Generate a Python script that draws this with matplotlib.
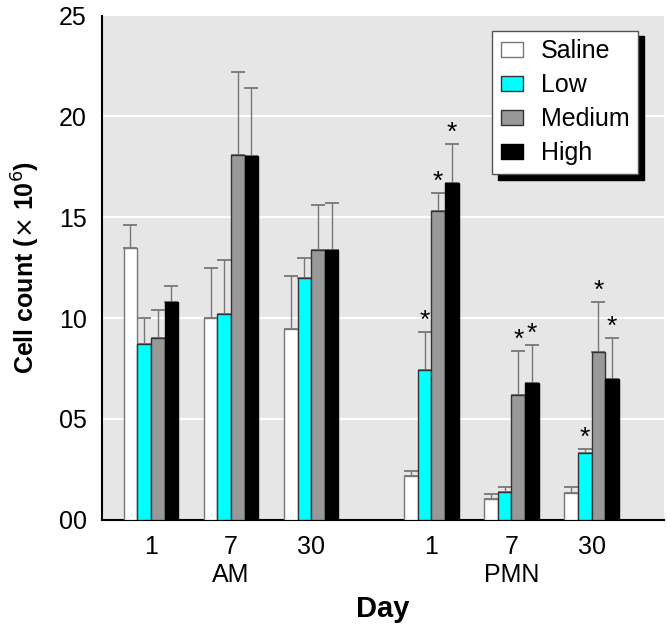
import matplotlib
matplotlib.use('Agg')
import matplotlib.pyplot as plt
import numpy as np

plt.rcParams['font.family'] = ['Liberation Sans', 'DejaVu Sans']

## data
days = ['1', '7', '30', '1', '7', '30']
cellTypes = ['AM', 'PMN']
groups = ['Saline', 'Low', 'Medium', 'High']

saline = [13.5, 10.0, 9.45, 2.15, 1.05, 1.35]
low = [8.7, 10.2, 12.0, 7.45, 1.4, 3.3]
medium = [9.0, 18.1, 13.4, 15.3, 6.2, 8.3]
high = [10.8, 18.05, 13.4, 16.7, 6.8, 7.0]

salineErr = [1.1, 2.5, 2.65, 0.25, 0.25, 0.3]
lowErr = [1.3, 2.7, 1.0, 1.85, 0.25, 0.2]
mediumErr = [1.4, 4.1, 2.2, 0.9, 2.15, 2.5]
highErr = [0.8, 3.35, 2.3, 1.95, 1.85, 2.0]

## significance stars: (group index, series index)
stars = [(3, 1), (3, 2), (3, 3), (4, 2), (4, 3), (5, 1), (5, 2), (5, 3)]

xpos = np.array([0, 1, 2, 3.5, 4.5, 5.5])
barW = 0.17
faces = ['white', '#00ffff', '#999999', 'black']
edges = ['#777777', '#333333', '#333333', 'black']

fig = plt.figure(figsize=(6.67, 6.24), dpi=100)
ax = fig.add_axes([0.153, 0.167, 0.842, 0.808])
ax.set_facecolor('#e6e6e6')

vals = [saline, low, medium, high]
errs = [salineErr, lowErr, mediumErr, highErr]
for i in range(4):
    xs = xpos + (i - 1.5) * barW
    ax.bar(xs, vals[i], width=barW, color=faces[i], edgecolor=edges[i],
           linewidth=1.0, label=groups[i], zorder=3)
    ax.errorbar(xs, vals[i], yerr=[np.zeros(6), errs[i]], fmt='none',
                ecolor='#777777', elinewidth=1.0, capsize=5, capthick=1.3,
                zorder=2)

for g, s in stars:
    x = xpos[g] + (s - 1.5) * barW
    top = vals[s][g] + errs[s][g]
    ax.text(x, top + 0.55, '*', ha='center', va='center', fontsize=19)

ax.set_ylim(0, 25)
ax.set_xlim(-0.61, 6.4)
ax.set_yticks([0, 5, 10, 15, 20, 25])
ax.set_yticklabels(['00', '05', '10', '15', '20', '25'])
ax.set_xticks(xpos)
ax.set_xticklabels(days)
ax.tick_params(length=0, labelsize=18, pad=11)
for yv in [5, 10, 15, 20]:
    ax.axhline(yv, color='white', linewidth=1.5, zorder=0)
for side in ['top', 'right']:
    ax.spines[side].set_visible(False)
ax.spines['left'].set_linewidth(1.5)
ax.spines['bottom'].set_linewidth(1.5)

ax.text(1, -0.085, cellTypes[0], transform=ax.get_xaxis_transform(),
        ha='center', va='top', fontsize=18)
ax.text(4.5, -0.085, cellTypes[1], transform=ax.get_xaxis_transform(),
        ha='center', va='top', fontsize=18)

ax.set_ylabel(r'Cell count ($\times$ 10$^6$)', fontsize=18, fontweight='bold', labelpad=12)
ax.set_xlabel('Day', fontsize=21, fontweight='bold', labelpad=26)

leg = ax.legend(loc='upper right', bbox_to_anchor=(0.977, 0.995), fontsize=18,
                fancybox=False, framealpha=1, edgecolor='#555555',
                shadow={'ox': 4, 'oy': -4, 'color': 'black', 'alpha': 1},
                handlelength=0.9, handleheight=0.6, borderpad=0.35,
                labelspacing=0.4, handletextpad=0.7)
leg.get_frame().set_linewidth(1.0)

fig.savefig('out.png', dpi=100)
